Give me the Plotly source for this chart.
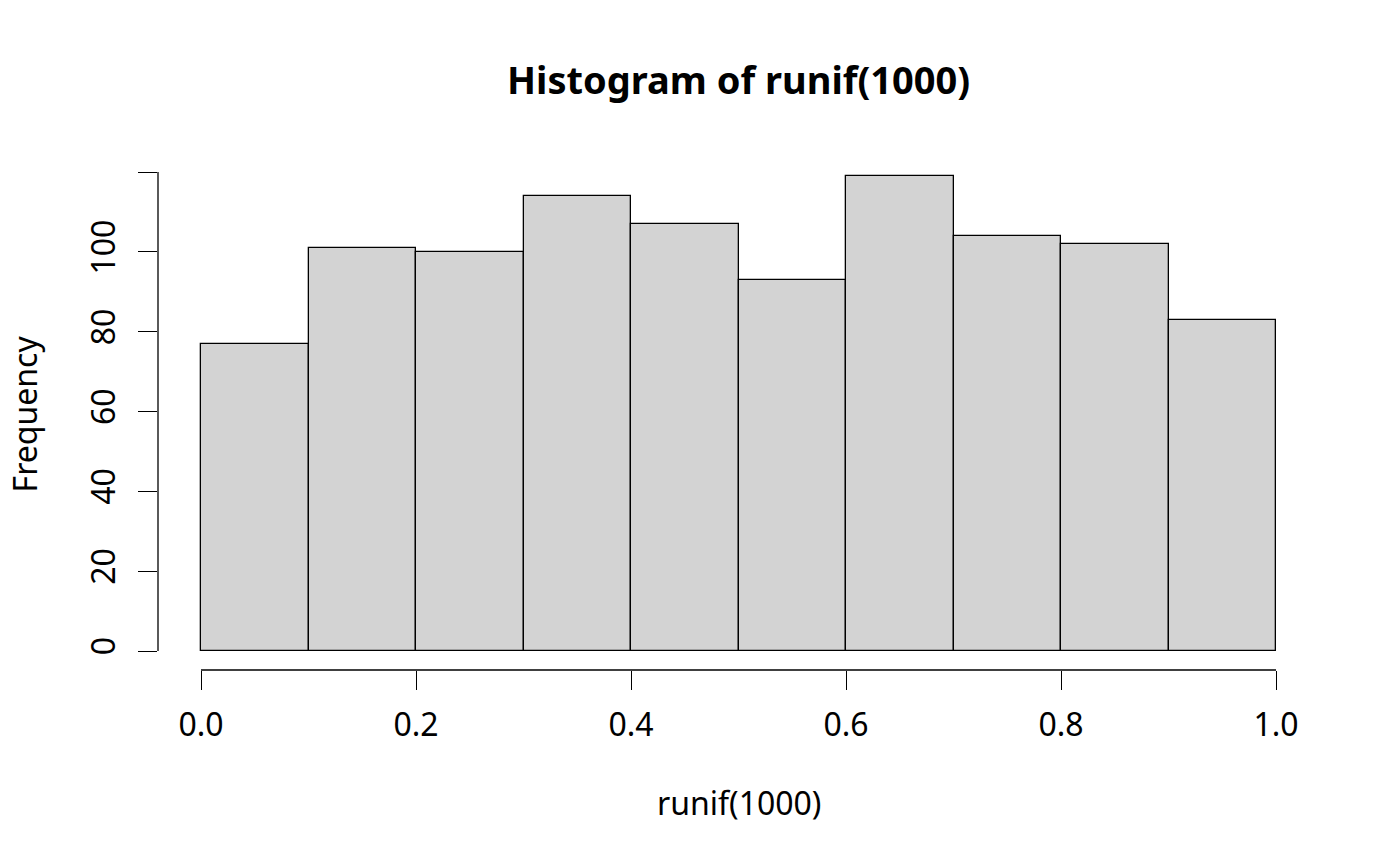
import plotly.graph_objects as go

# Data
bin_edges = [0.0, 0.1, 0.2, 0.3, 0.4, 0.5, 0.6, 0.7, 0.8, 0.9, 1.0]
counts = [77, 101, 100, 114, 107, 93, 119, 104, 102, 83]
x_tick_vals = [0.0, 0.2, 0.4, 0.6, 0.8, 1.0]
x_tick_text = ["0.0", "0.2", "0.4", "0.6", "0.8", "1.0"]
y_tick_vals = [0, 20, 40, 60, 80, 100, 120]
y_tick_text = ["0", "20", "40", "60", "80", "100", ""]

centers = [(a + b) / 2 for a, b in zip(bin_edges[:-1], bin_edges[1:])]
widths = [b - a for a, b in zip(bin_edges[:-1], bin_edges[1:])]

FONT = "Noto Sans"

fig = go.Figure()
fig.add_trace(go.Bar(
    x=centers, y=counts, width=widths,
    marker=dict(color="#D3D3D3", line=dict(color="black", width=1.3)),
    hoverinfo="x+y", showlegend=False,
))

xmin, xmax = bin_edges[0], bin_edges[-1]
ymax = max(counts)
xpad = 0.04 * (xmax - xmin)
ypad = 0.04 * ymax

fig.update_layout(
    width=1400, height=866,
    margin=dict(l=158, r=81, t=157, b=196),
    paper_bgcolor="white", plot_bgcolor="white",
    font=dict(family=FONT, size=32, color="black"),
    bargap=0,
    xaxis=dict(
        range=[xmin - xpad, xmax + xpad],
        tickmode="array", tickvals=x_tick_vals, ticktext=x_tick_text,
        ticks="outside", ticklen=19, tickwidth=1.3, tickcolor="black",
        showgrid=False, zeroline=False, showline=False,
        ticklabelstandoff=8,
        tickfont=dict(family=FONT, size=32, color="black"),
    ),
    yaxis=dict(
        range=[-ypad, ymax + ypad],
        tickmode="array", tickvals=y_tick_vals, ticktext=y_tick_text,
        ticks="outside", ticklen=19, tickwidth=1.3, tickcolor="black",
        tickangle=-90,
        showgrid=False, zeroline=False, showline=False,
        ticklabelstandoff=10,
        tickfont=dict(family=FONT, size=32, color="black"),
    ),
    shapes=[
        dict(type="line", xref="x", yref="paper",
             x0=x_tick_vals[0], x1=x_tick_vals[-1], y0=0, y1=0,
             line=dict(color="black", width=1.3)),
        dict(type="line", xref="paper", yref="y",
             x0=0, x1=0, y0=y_tick_vals[0], y1=y_tick_vals[-1],
             line=dict(color="black", width=1.3)),
    ],
    annotations=[
        dict(text="<b>Histogram of runif(1000)</b>", xref="paper", yref="paper",
             x=0.5, y=1.152, xanchor="center", yanchor="middle", showarrow=False,
             font=dict(family=FONT, size=38, color="black")),
        dict(text="runif(1000)", xref="paper", yref="paper",
             x=0.5, y=-0.259, xanchor="center", yanchor="middle", showarrow=False,
             font=dict(family=FONT, size=32, color="black")),
        dict(text="Frequency", xref="paper", yref="paper",
             x=-0.1146, y=0.5, xanchor="center", yanchor="middle", showarrow=False,
             textangle=-90,
             font=dict(family=FONT, size=32, color="black")),
    ],
)

fig.write_html("out.html",
               config={"displayModeBar": False},
               post_script="document.body.style.margin='0';document.body.style.overflow='hidden';")
